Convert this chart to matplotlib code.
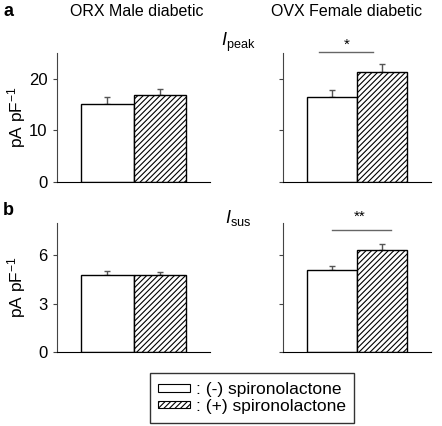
import matplotlib
matplotlib.use("Agg")
import matplotlib.pyplot as plt
from matplotlib.patches import Patch

plt.rcParams["font.family"] = ["Liberation Sans", "DejaVu Sans"]
plt.rcParams["mathtext.fontset"] = "custom"
plt.rcParams["mathtext.rm"] = "Liberation Sans"
plt.rcParams["mathtext.it"] = "Liberation Sans:italic"
plt.rcParams["hatch.linewidth"] = 0.8

# data
groups = ["ORX Male diabetic", "OVX Female diabetic"]
treatments = ["(-) spironolactone", "(+) spironolactone"]
peak_mean = {"ORX": [15.2, 16.8], "OVX": [16.4, 21.3]}
peak_err = {"ORX": [1.2, 1.2], "OVX": [1.4, 1.5]}
sus_mean = {"ORX": [4.75, 4.77], "OVX": [5.07, 6.32]}
sus_err = {"ORX": [0.28, 0.19], "OVX": [0.27, 0.37]}
peak_ticks = [0, 10, 20]
sus_ticks = [0, 3, 6]

W, H = 442, 426
fig = plt.figure(figsize=(W / 100, H / 100), dpi=100)


def fig_rect(x0, y_top, x1, y_bot):
    return [x0 / W, 1 - y_bot / H, (x1 - x0) / W, (y_bot - y_top) / H]


def draw_panel(ax, means, errs, ylim, ticks, show_labels):
    xs = [0.33, 0.67]
    ax.bar(xs, means, width=0.34, color="white", edgecolor="black",
           linewidth=1.0, hatch=["", "//////"], zorder=2)
    for x, m, e in zip(xs, means, errs):
        ax.errorbar(x, m, yerr=[[0], [e]], color="#555555", capsize=2,
                    elinewidth=1, capthick=1, zorder=1)
    ax.set_xlim(0, 1)
    ax.set_ylim(*ylim)
    ax.set_yticks(ticks)
    if not show_labels:
        ax.set_yticklabels([])
    ax.set_xticks([])
    ax.spines["top"].set_visible(False)
    ax.spines["right"].set_visible(False)
    ax.spines["left"].set_color("#444444")
    ax.spines["bottom"].set_color("black")
    ax.tick_params(axis="y", length=3, color="#444444", labelsize=12, pad=4)


ax1 = fig.add_axes(fig_rect(57, 53, 210, 182))
ax2 = fig.add_axes(fig_rect(283, 53, 431, 182))
ax3 = fig.add_axes(fig_rect(57, 223, 210, 352))
ax4 = fig.add_axes(fig_rect(283, 223, 431, 352))

draw_panel(ax1, peak_mean["ORX"], peak_err["ORX"], (0, 25), peak_ticks, True)
draw_panel(ax2, peak_mean["OVX"], peak_err["OVX"], (0, 25), peak_ticks, False)
draw_panel(ax3, sus_mean["ORX"], sus_err["ORX"], (0, 8), sus_ticks, True)
draw_panel(ax4, sus_mean["OVX"], sus_err["OVX"], (0, 8), sus_ticks, False)

for ax in (ax1, ax3):
    ax.set_ylabel("pA pF$^{\\mathrm{-1}}$", fontsize=12.5)
    ax.yaxis.set_label_coords(-0.19, 0.5)

# significance marks
ax2.plot([0.24, 0.61], [25.2, 25.2], color="#666666", lw=1, clip_on=False)
ax2.text(0.43, 26.6, "*", ha="center", va="center", fontsize=11)
ax4.plot([0.33, 0.73], [7.56, 7.56], color="#666666", lw=1, clip_on=False)
ax4.text(0.52, 8.4, "**", ha="center", va="center", fontsize=11)

# titles and panel letters
fig.text(137 / W, 1 - 12 / H, groups[0], ha="center", va="center", fontsize=11.5)
fig.text(347 / W, 1 - 12 / H, groups[1], ha="center", va="center", fontsize=11.5)
fig.text(3 / W, 1 - 11 / H, "a", ha="left", va="center", fontsize=13, fontweight="bold")
fig.text(3 / W, 1 - 211 / H, "b", ha="left", va="center", fontsize=13, fontweight="bold")
fig.text(221 / W, 1 - 42 / H, r"$I_{\mathrm{peak}}$", ha="left", va="center", fontsize=13)
fig.text(225 / W, 1 - 218 / H, r"$I_{\mathrm{sus}}$", ha="left", va="center", fontsize=13)

handles = [Patch(facecolor="white", edgecolor="black", linewidth=0.8),
           Patch(facecolor="white", edgecolor="black", linewidth=0.8, hatch="//////")]
leg = fig.legend(handles, [": " + t for t in treatments], loc="center",
                 bbox_to_anchor=(252 / W, 1 - 398 / H), fontsize=12.5,
                 frameon=True, fancybox=False, edgecolor="black",
                 handlelength=1.8, handleheight=0.3, handletextpad=0.35,
                 labelspacing=0.1, borderpad=0.5, borderaxespad=0)
leg.get_frame().set_linewidth(1.0)

fig.savefig("out.png", dpi=100)
